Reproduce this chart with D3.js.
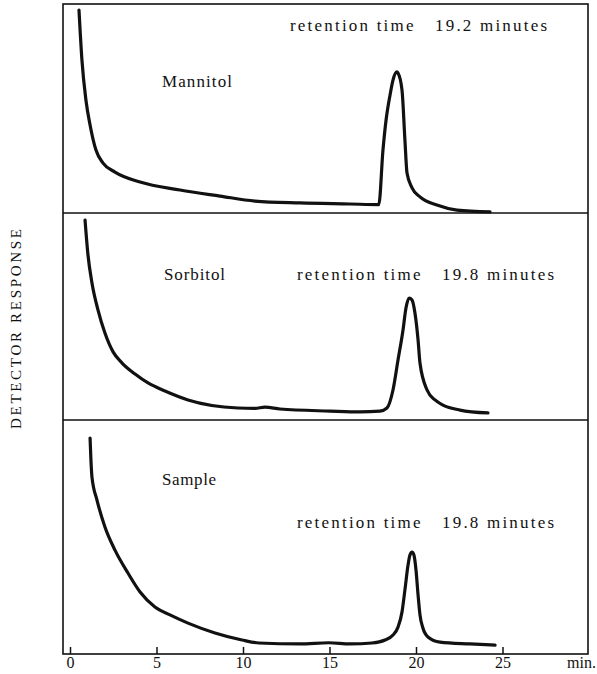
<!DOCTYPE html>
<html>
<head>
<meta charset="utf-8">
<script src="https://cdn.jsdelivr.net/npm/d3@7"></script>
<style>
  body { margin: 0; background: #fff; }
  svg text {
    font-family: "Liberation Serif", "Times New Roman", Times, "Nimbus Roman",
                 "Noto Serif", "DejaVu Serif", FreeSerif, serif;
    fill: #111;
  }
</style>
</head>
<body>
<div id="chart"></div>
<script>
// panel names and retention times as printed
const names = ["Mannitol", "Sorbitol", "Sample"];
const retention = ["19.2", "19.8", "19.8"];
const tickValues = [0, 5, 10, 15, 20, 25];

// traces: [minutes, relative response 0-100]
const mannitol = [
    [0.52, 97.1], [0.69, 73.2], [0.92, 54.1], [1.16, 42.1], [1.5, 30.1],
    [1.91, 23.9], [2.6, 19.6], [4.05, 14.8], [6.36, 11.0], [8.67, 8.1],
    [10.69, 5.7], [13.29, 4.8], [16.18, 4.3], [17.85, 4.0], [18.09, 30.1],
    [18.27, 44.5], [18.5, 56.5], [18.67, 63.6], [18.9, 67.5], [18.96, 67.0],
    [19.19, 58.9], [19.36, 34.9], [19.48, 19.1], [19.77, 12.0], [20.23, 7.7],
    [21.21, 3.8], [22.37, 1.4], [24.28, 0.5]
];
const sorbitol = [
    [0.87, 96.6], [1.04, 79.7], [1.27, 66.2], [1.62, 53.1], [2.02, 42.0],
    [2.49, 32.9], [3.01, 27.5], [3.76, 22.2], [4.51, 17.9], [5.49, 14.0],
    [6.82, 9.7], [9.71, 5.8], [10.69, 5.6], [11.27, 6.2], [12.14, 5.3],
    [15.03, 4.3], [16.76, 3.9], [17.92, 4.3], [18.32, 5.8], [18.67, 14.5],
    [18.96, 29.0], [19.25, 43.5], [19.42, 54.1], [19.6, 58.9], [19.77, 58.0],
    [19.94, 51.7], [20.12, 38.6], [20.23, 27.5], [20.64, 14.5], [21.1, 9.7],
    [21.56, 7.2], [22.54, 4.8], [24.16, 3.4]
];
const sample = [
    [1.16, 92.3], [1.21, 82.9], [1.27, 75.6], [1.56, 65.8], [2.02, 54.3],
    [2.6, 44.4], [3.35, 34.6], [4.05, 26.5], [4.91, 20.1], [5.78, 16.7],
    [6.82, 13.2], [8.38, 9.0], [9.94, 6.0], [10.92, 4.7], [13.29, 4.3],
    [14.97, 4.8], [16.18, 4.3], [17.46, 4.7], [18.21, 6.0], [18.67, 8.1],
    [18.96, 11.5], [19.19, 17.9], [19.36, 27.4], [19.54, 38.0], [19.65, 42.3],
    [19.77, 43.6], [19.88, 42.3], [20.0, 35.9], [20.12, 25.2], [20.23, 16.7],
    [20.4, 11.1], [20.69, 7.3], [21.39, 5.1], [23.12, 4.3], [24.57, 3.8]
];
const traces = [mannitol, sorbitol, sample];

const W = 597, H = 674;
const frame = { left: 63, right: 588, top: 4, bottom: 654 };
const panelEdges = [4, 213, 420, 654];

const svg = d3.select("#chart").append("svg")
    .attr("width", W).attr("height", H);

const x = d3.scaleLinear().domain([0, 25]).range([70, 502.5]);

// outer frame and the two dividers
svg.append("rect")
    .attr("x", frame.left).attr("y", frame.top)
    .attr("width", frame.right - frame.left)
    .attr("height", frame.bottom - frame.top)
    .attr("fill", "none").attr("stroke", "#111").attr("stroke-width", 1.6);

svg.selectAll("line.divider")
    .data(panelEdges.slice(1, 3))
    .join("line")
    .attr("class", "divider")
    .attr("x1", frame.left).attr("x2", frame.right)
    .attr("y1", d => d).attr("y2", d => d)
    .attr("stroke", "#111").attr("stroke-width", 1.6);

// label placement per panel
const nameLayout = [
    { x: 162, y: 87, len: 70 },
    { x: 164, y: 280, len: 61 },
    { x: 162, y: 485, len: 54 }
];
const rtLayout = [
    { x: 290, y: 31 },
    { x: 297, y: 280 },
    { x: 297, y: 528 }
];

traces.forEach((data, i) => {
    const y = d3.scaleLinear().domain([0, 100])
        .range([panelEdges[i + 1], panelEdges[i]]);

    const line = d3.line()
        .x(d => x(d[0]))
        .y(d => y(d[1]))
        .curve(d3.curveMonotoneX);

    svg.append("path")
        .datum(data)
        .attr("d", line)
        .attr("fill", "none")
        .attr("stroke", "#111")
        .attr("stroke-width", 3.2)
        .attr("stroke-linecap", "round")
        .attr("stroke-linejoin", "round");

    svg.append("text")
        .attr("x", nameLayout[i].x).attr("y", nameLayout[i].y)
        .attr("font-size", 17)
        .attr("textLength", nameLayout[i].len)
        .attr("lengthAdjust", "spacing")
        .text(names[i]);

    svg.append("text")
        .attr("x", rtLayout[i].x).attr("y", rtLayout[i].y)
        .attr("font-size", 17)
        .attr("textLength", 257)
        .attr("lengthAdjust", "spacing")
        .style("white-space", "pre")
        .text("retention time   " + retention[i] + " minutes");
});

// bottom axis: short ticks pointing up into the frame
const xAxis = d3.axisBottom(x)
    .tickValues(tickValues)
    .tickSizeInner(-7)
    .tickSizeOuter(0)
    .tickPadding(3);

const gx = svg.append("g")
    .attr("transform", `translate(0, ${frame.bottom})`)
    .call(xAxis);
gx.select(".domain").remove();
gx.selectAll(".tick line").attr("stroke", "#111").attr("stroke-width", 1.5);
gx.selectAll(".tick text").attr("font-size", 16);

svg.append("text")
    .attr("x", 567).attr("y", 668)
    .attr("font-size", 16)
    .text("min.");

svg.append("text")
    .attr("transform", "translate(21, 329) rotate(-90)")
    .attr("text-anchor", "middle")
    .attr("font-size", 15)
    .attr("textLength", 200)
    .attr("lengthAdjust", "spacing")
    .text("DETECTOR RESPONSE");
</script>
</body>
</html>
